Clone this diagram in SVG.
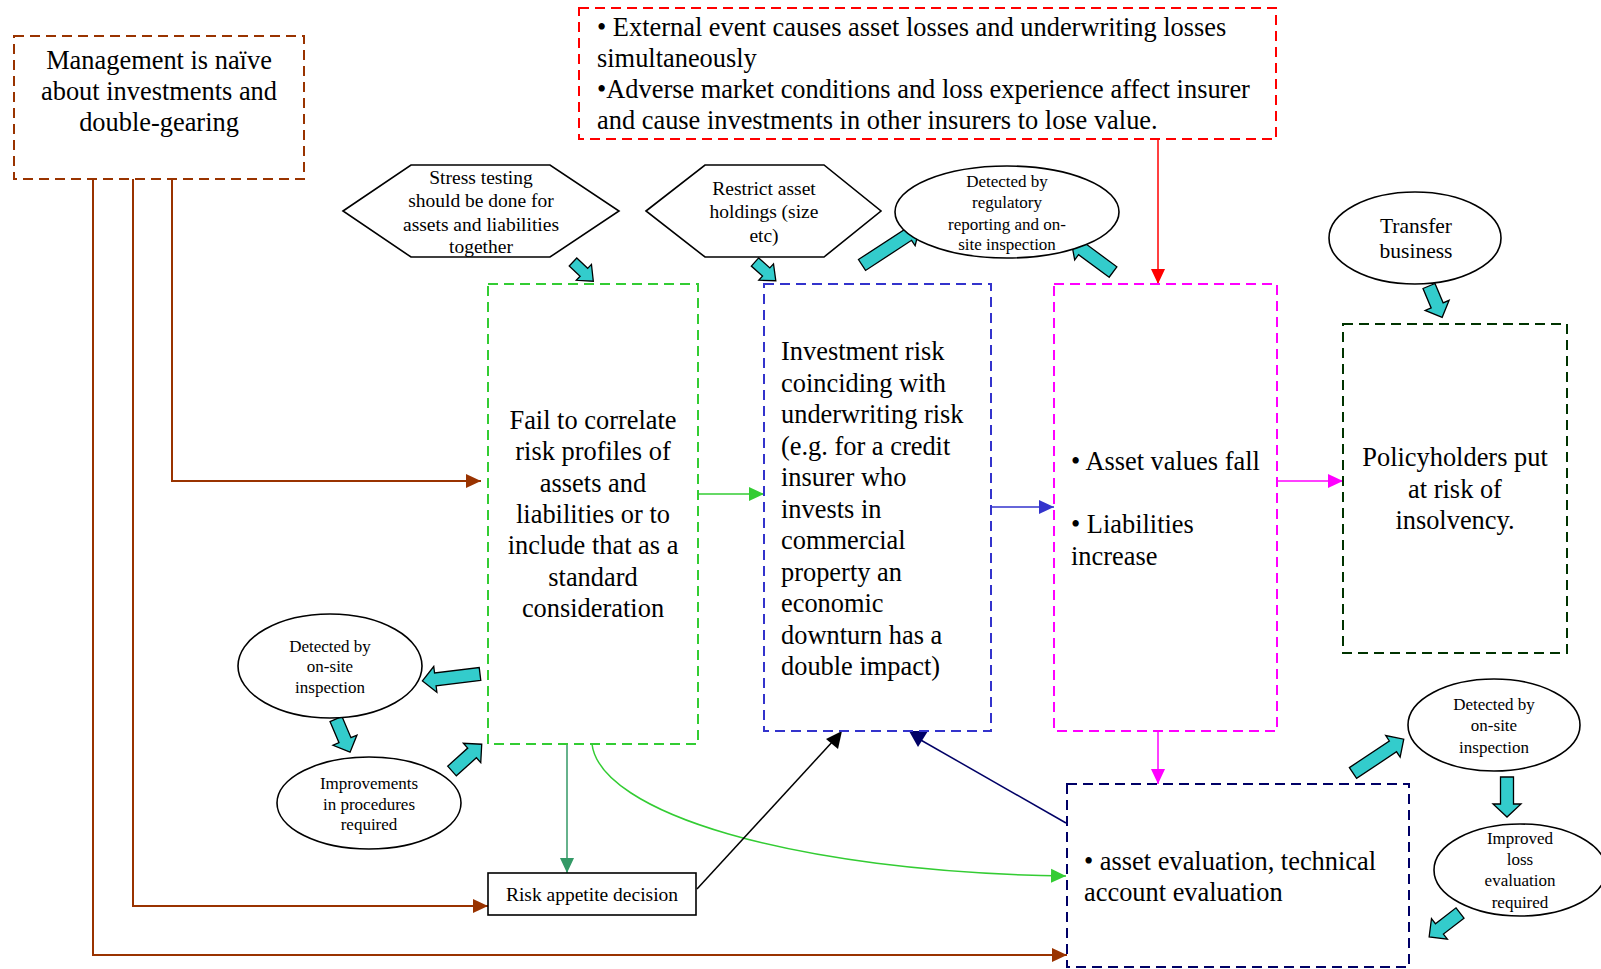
<svg xmlns="http://www.w3.org/2000/svg" width="1601" height="969" viewBox="0 0 1601 969">
<style>
text{font-family:"Liberation Serif","Times New Roman",serif;fill:#000}
.big{font-size:26.4px}
.mid{font-size:19.5px}
.sm{font-size:17px}
.c{text-anchor:middle}
.box{fill:#fff;stroke-width:2;stroke-dasharray:10 6}
.shape{fill:#fff;stroke:#000;stroke-width:1.6}
.blk{fill:#33cccc;stroke:#000;stroke-width:1.3;stroke-linejoin:miter}
.ln{fill:none}
</style>
<defs>
<marker id="mBrown" markerUnits="userSpaceOnUse" markerWidth="16" markerHeight="16" refX="15" refY="8" orient="auto"><path d="M0,1 L15,8 L0,15 z" fill="#993300"/></marker>
<marker id="mGreen" markerUnits="userSpaceOnUse" markerWidth="16" markerHeight="16" refX="15" refY="8" orient="auto"><path d="M0,1 L15,8 L0,15 z" fill="#33cc33"/></marker>
<marker id="mBlue" markerUnits="userSpaceOnUse" markerWidth="16" markerHeight="16" refX="15" refY="8" orient="auto"><path d="M0,1 L15,8 L0,15 z" fill="#3333cc"/></marker>
<marker id="mMag" markerUnits="userSpaceOnUse" markerWidth="16" markerHeight="16" refX="15" refY="8" orient="auto"><path d="M0,1 L15,8 L0,15 z" fill="#ff00ff"/></marker>
<marker id="mRed" markerUnits="userSpaceOnUse" markerWidth="16" markerHeight="16" refX="15" refY="8" orient="auto"><path d="M0,1 L15,8 L0,15 z" fill="#ff0000"/></marker>
<marker id="mSea" markerUnits="userSpaceOnUse" markerWidth="16" markerHeight="16" refX="15" refY="8" orient="auto"><path d="M0,1 L15,8 L0,15 z" fill="#339966"/></marker>
</defs>

<g id="connectors">
  <polyline class="ln" points="172,179 172,481 481,481" stroke="#993300" stroke-width="2" marker-end="url(#mBrown)"/>
  <polyline class="ln" points="133,179 133,906 488,906" stroke="#993300" stroke-width="2" marker-end="url(#mBrown)"/>
  <polyline class="ln" points="93,179 93,955 1067,955" stroke="#993300" stroke-width="2" marker-end="url(#mBrown)"/>
  <line x1="1158" y1="139" x2="1158" y2="284" stroke="#ff0000" stroke-width="1.5" marker-end="url(#mRed)"/>
  <line x1="698" y1="494" x2="764" y2="494" stroke="#33cc33" stroke-width="1.5" marker-end="url(#mGreen)"/>
  <line x1="991" y1="507" x2="1054" y2="507" stroke="#3333cc" stroke-width="1.5" marker-end="url(#mBlue)"/>
  <line x1="1277" y1="481" x2="1343" y2="481" stroke="#ff00ff" stroke-width="1.5" marker-end="url(#mMag)"/>
  <line x1="1158" y1="731" x2="1158" y2="784" stroke="#ff00ff" stroke-width="1.5" marker-end="url(#mMag)"/>
  <line x1="567" y1="744" x2="567" y2="873" stroke="#339966" stroke-width="1.5" marker-end="url(#mSea)"/>
  <path class="ln" d="M592,744 C600,812 790,872 1066,876" stroke="#33cc33" stroke-width="1.5" marker-end="url(#mGreen)"/>
  <line x1="697" y1="889" x2="834" y2="740" stroke="#000" stroke-width="1.5"/>
  <polygon points="842,731 826,739 838,749" fill="#000"/>
  <line x1="1066" y1="823" x2="919" y2="739" stroke="#000066" stroke-width="1.5"/>
  <polygon points="909,731 928,731 918,747" fill="#000066"/>

  <path class="blk" transform="translate(573,262) rotate(43.5)" d="M0,-5.5 H15 V-11 L28,0 L15,11 V5.5 H0 Z"/>
  <path class="blk" transform="translate(755,262) rotate(42)" d="M0,-5.5 H15 V-11 L28,0 L15,11 V5.5 H0 Z"/>
  <path class="blk" transform="translate(862,265) rotate(-33.2)" d="M0,-6.5 H55 V-13 L69,0 L55,13 V6.5 H0 Z"/>
  <path class="blk" transform="translate(1113,272) rotate(216.4)" d="M0,-6.5 H38 V-13 L52,0 L38,13 V6.5 H0 Z"/>
  <path class="blk" transform="translate(1429,286) rotate(67.2)" d="M0,-6.5 H21 V-13 L34,0 L21,13 V6.5 H0 Z"/>
  <path class="blk" transform="translate(480,674) rotate(173.1)" d="M0,-6.5 H45 V-13 L58,0 L45,13 V6.5 H0 Z"/>
  <path class="blk" transform="translate(336,719) rotate(67)" d="M0,-6.5 H23 V-13 L36,0 L23,13 V6.5 H0 Z"/>
  <path class="blk" transform="translate(452,771) rotate(-42)" d="M0,-6.5 H27 V-13 L40,0 L27,13 V6.5 H0 Z"/>
  <path class="blk" transform="translate(1353,773) rotate(-33.7)" d="M0,-6.5 H48 V-13 L61,0 L48,13 V6.5 H0 Z"/>
  <path class="blk" transform="translate(1507,777) rotate(90)" d="M0,-6.5 H27 V-14 L40,0 L27,14 V6.5 H0 Z"/>
  <path class="blk" transform="translate(1460,913) rotate(142.3)" d="M0,-6.5 H26 V-13 L39,0 L26,13 V6.5 H0 Z"/>
</g>

<g id="management">
  <rect class="box" x="14" y="36" width="290" height="143" stroke="#993300"/>
  <text class="big c" x="159" y="69">Management is naïve</text>
  <text class="big c" x="159" y="100">about investments and</text>
  <text class="big c" x="159" y="131">double-gearing</text>
</g>

<g id="external-event">
  <rect class="box" x="579" y="8" width="697" height="131" stroke="#ff0000"/>
  <text class="big" x="597" y="36">• External event causes asset losses and underwriting losses</text>
  <text class="big" x="597" y="67">simultaneously</text>
  <text class="big" x="597" y="98">•Adverse market conditions and loss experience affect insurer</text>
  <text class="big" x="597" y="129">and cause investments in other insurers to lose value.</text>
</g>

<g id="stress-testing">
  <polygon class="shape" points="343,211 411,165 550,165 619,211 550,257 411,257"/>
  <text class="mid c" x="481" y="184">Stress testing</text>
  <text class="mid c" x="481" y="207">should be done for</text>
  <text class="mid c" x="481" y="231">assets and liabilities</text>
  <text class="mid c" x="481" y="253">together</text>
</g>

<g id="restrict-asset">
  <polygon class="shape" points="646,211 705,165 824,165 881,211 824,257 705,257"/>
  <text class="mid c" x="764" y="195">Restrict asset</text>
  <text class="mid c" x="764" y="218">holdings (size</text>
  <text class="mid c" x="764" y="242">etc)</text>
</g>

<g id="detected-regulatory">
  <ellipse class="shape" cx="1007" cy="212" rx="112" ry="46"/>
  <text class="sm c" x="1007" y="187">Detected by</text>
  <text class="sm c" x="1007" y="208">regulatory</text>
  <text class="sm c" x="1007" y="230">reporting and on-</text>
  <text class="sm c" x="1007" y="250">site inspection</text>
</g>

<g id="transfer-business">
  <ellipse class="shape" cx="1415" cy="238" rx="86" ry="46"/>
  <text class="c" x="1416" y="233" font-size="21.5">Transfer</text>
  <text class="c" x="1416" y="258" font-size="21.5">business</text>
</g>

<g id="fail-to-correlate">
  <rect class="box" x="488" y="284" width="210" height="460" stroke="#33cc33" stroke-width="1.6" stroke-dasharray="9 5"/>
  <text class="big c" x="593" y="429">Fail to correlate</text>
  <text class="big c" x="593" y="460">risk profiles of</text>
  <text class="big c" x="593" y="492">assets and</text>
  <text class="big c" x="593" y="523">liabilities or to</text>
  <text class="big c" x="593" y="554">include that as a</text>
  <text class="big c" x="593" y="586">standard</text>
  <text class="big c" x="593" y="617">consideration</text>
</g>

<g id="investment-risk">
  <rect class="box" x="764" y="284" width="227" height="447" stroke="#3333cc"/>
  <text class="big" x="781" y="360">Investment risk</text>
  <text class="big" x="781" y="391.5">coinciding with</text>
  <text class="big" x="781" y="423">underwriting risk</text>
  <text class="big" x="781" y="454.5">(e.g. for a credit</text>
  <text class="big" x="781" y="486">insurer who</text>
  <text class="big" x="781" y="517.5">invests in</text>
  <text class="big" x="781" y="549">commercial</text>
  <text class="big" x="781" y="580.5">property an</text>
  <text class="big" x="781" y="612">economic</text>
  <text class="big" x="781" y="643.5">downturn has a</text>
  <text class="big" x="781" y="675">double impact)</text>
</g>

<g id="asset-values">
  <rect class="box" x="1054" y="284" width="223" height="447" stroke="#ff00ff"/>
  <text class="big" x="1071" y="470">• Asset values fall</text>
  <text class="big" x="1071" y="533">• Liabilities</text>
  <text class="big" x="1071" y="565">increase</text>
</g>

<g id="policyholders">
  <rect class="box" x="1343" y="324" width="224" height="329" stroke="#003300"/>
  <text class="big c" x="1455" y="466">Policyholders put</text>
  <text class="big c" x="1455" y="498">at risk of</text>
  <text class="big c" x="1455" y="529">insolvency.</text>
</g>

<g id="detected-onsite-left">
  <ellipse class="shape" cx="330" cy="666" rx="92" ry="52"/>
  <text class="sm c" x="330" y="652">Detected by</text>
  <text class="sm c" x="330" y="672">on-site</text>
  <text class="sm c" x="330" y="693">inspection</text>
</g>

<g id="improvements">
  <ellipse class="shape" cx="369" cy="803" rx="92" ry="46"/>
  <text class="sm c" x="369" y="789">Improvements</text>
  <text class="sm c" x="369" y="810">in procedures</text>
  <text class="sm c" x="369" y="830">required</text>
</g>

<g id="risk-appetite">
  <rect x="488" y="873" width="208" height="42" fill="#fff" stroke="#000" stroke-width="1.6"/>
  <text class="mid c" x="592" y="901">Risk appetite decision</text>
</g>

<g id="asset-evaluation">
  <rect class="box" x="1067" y="784" width="342" height="183" stroke="#000066"/>
  <text class="big" x="1084" y="870">• asset evaluation, technical</text>
  <text class="big" x="1084" y="901">account evaluation</text>
</g>

<g id="detected-onsite-right">
  <ellipse class="shape" cx="1494" cy="725" rx="86" ry="46"/>
  <text class="sm c" x="1494" y="710">Detected by</text>
  <text class="sm c" x="1494" y="731">on-site</text>
  <text class="sm c" x="1494" y="753">inspection</text>
</g>

<g id="improved-loss">
  <ellipse class="shape" cx="1520" cy="870" rx="86" ry="46"/>
  <text class="sm c" x="1520" y="844">Improved</text>
  <text class="sm c" x="1520" y="865">loss</text>
  <text class="sm c" x="1520" y="886">evaluation</text>
  <text class="sm c" x="1520" y="908">required</text>
</g>
</svg>
